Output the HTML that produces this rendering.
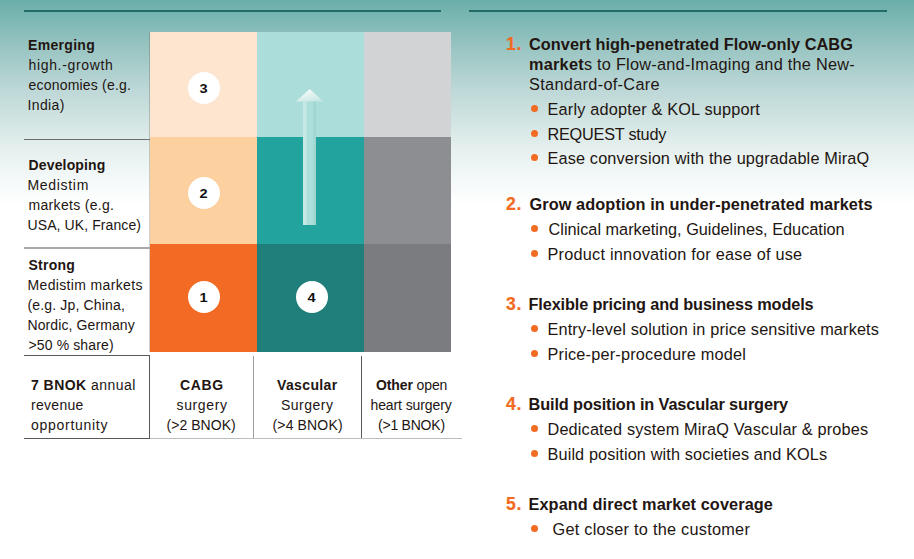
<!DOCTYPE html>
<html><head><meta charset="utf-8">
<style>
*{margin:0;padding:0;box-sizing:border-box}
html,body{width:914px;height:559px;overflow:hidden;background:#fff}
body{position:relative;font-family:"Liberation Sans",sans-serif;color:#221511}
#bg{position:absolute;left:0;top:0;width:914px;height:559px;
background:linear-gradient(to bottom,#6aaea9 0px,#7db8b4 20px,#9bc6c3 50px,#bdd8d7 90px,#d8e8e6 130px,#e6f0ef 150px,#f4f9f9 180px,#ffffff 205px,#ffffff 559px)}
.hl{position:absolute;height:2px;background:#236b66;top:10px}
.cell{position:absolute}
.t{position:absolute;white-space:nowrap;line-height:20px}
b{font-weight:bold}
.num{position:absolute;white-space:nowrap;line-height:20px;color:#f26b22;font-weight:bold;font-size:17.6px;-webkit-text-stroke:0.2px #f26b22;letter-spacing:0.8px}
.dot{position:absolute;width:7px;height:7px;border-radius:50%;background:#f26b22}
.circ{position:absolute;width:32px;height:32px;border-radius:50%;background:#fff;text-align:center;line-height:33px;font-size:13px;font-weight:bold;color:#111}
.circ span{display:inline-block;transform:scaleX(1.12)}
.line{position:absolute}
</style></head><body>

<div id="bg"></div>
<div class="hl" style="left:24px;width:417px"></div>
<div class="hl" style="left:469px;width:418px"></div>
<div class="cell" style="left:150px;top:32px;width:107px;height:105px;background:#fee5cf"></div>
<div class="cell" style="left:257px;top:32px;width:107px;height:105px;background:#abdeda"></div>
<div class="cell" style="left:364px;top:32px;width:87px;height:105px;background:#d2d3d5"></div>
<div class="cell" style="left:150px;top:137px;width:107px;height:107px;background:#fcd09f"></div>
<div class="cell" style="left:257px;top:137px;width:107px;height:107px;background:#22a39d"></div>
<div class="cell" style="left:364px;top:137px;width:87px;height:107px;background:#8d8e92"></div>
<div class="cell" style="left:150px;top:244px;width:107px;height:108px;background:#f26a24"></div>
<div class="cell" style="left:257px;top:244px;width:107px;height:108px;background:#217f7b"></div>
<div class="cell" style="left:364px;top:244px;width:87px;height:108px;background:#7b7c80"></div>
<div class="cell" style="left:303px;top:101px;width:13px;height:124px;background:linear-gradient(to right,#c8e8e6 0,#c8e8e6 3px,#acdeda 4px,#acdeda 10px,#9fd6d2 11px,#9fd6d2 13px)"></div>
<svg style="position:absolute;left:0;top:0" width="914" height="559"><defs><linearGradient id="ah" x1="0.3" y1="0.1" x2="0.7" y2="1"><stop offset="0" stop-color="#f2faf9"/><stop offset="0.55" stop-color="#dff1ef"/><stop offset="1" stop-color="#c6e6e3"/></linearGradient></defs>
<polygon points="309.6,88.9 296,101.4 323.4,101.4" fill="url(#ah)"/></svg>
<div class="circ" style="left:187.7px;top:72px"><span>3</span></div>
<div class="circ" style="left:187.7px;top:177px"><span>2</span></div>
<div class="circ" style="left:187.7px;top:281px"><span>1</span></div>
<div class="circ" style="left:295.7px;top:281px"><span>4</span></div>
<div class="line" style="left:149px;top:32px;width:1px;height:320px;background:rgba(95,80,70,0.28)"></div>
<div class="line" style="left:24px;top:139px;width:126px;height:1px;background:#6d6e70"></div>
<div class="line" style="left:24px;top:247px;width:126px;height:1.5px;background:#a7a9ac"></div>
<div class="line" style="left:24px;top:355px;width:126px;height:1px;background:#58595b"></div>
<div class="line" style="left:149px;top:355px;width:1px;height:83px;background:#58595b"></div>
<div class="line" style="left:253px;top:356px;width:1px;height:82px;background:#9a9c9f"></div>
<div class="line" style="left:361px;top:356px;width:1px;height:82px;background:#58595b"></div>
<div class="line" style="left:24px;top:437.5px;width:126px;height:1px;background:#58595b"></div>
<div class="line" style="left:150px;top:437.5px;width:312px;height:1.5px;background:#bcbec0"></div>

<div class="num" style="left:506px;top:33.70px">1.</div>
<div class="num" style="left:506px;top:193.50px">2.</div>
<div class="num" style="left:506px;top:293.50px">3.</div>
<div class="num" style="left:506px;top:393.50px">4.</div>
<div class="num" style="left:506px;top:493.60px">5.</div>
<div class="dot" style="left:531px;top:105.20px"></div>
<div class="dot" style="left:531px;top:130.00px"></div>
<div class="dot" style="left:531px;top:154.10px"></div>
<div class="dot" style="left:531px;top:225.20px"></div>
<div class="dot" style="left:531px;top:250.20px"></div>
<div class="dot" style="left:531px;top:325.20px"></div>
<div class="dot" style="left:531px;top:350.20px"></div>
<div class="dot" style="left:531px;top:425.20px"></div>
<div class="dot" style="left:531px;top:450.20px"></div>
<div class="dot" style="left:531px;top:525.00px"></div>
<div class="t" id="e1" style="left:28.00px;top:34.75px;font-size:14px;letter-spacing:0.314px"><b>Emerging</b></div>
<div class="t" id="e2" style="left:28.50px;top:54.75px;font-size:14px;letter-spacing:0.655px">high.-growth</div>
<div class="t" id="e3" style="left:28.50px;top:74.75px;font-size:14px;letter-spacing:0.200px">economies (e.g.</div>
<div class="t" id="e4" style="left:27.50px;top:94.75px;font-size:14px;letter-spacing:0.360px">India)</div>
<div class="t" id="d1" style="left:28.50px;top:154.75px;font-size:14px;letter-spacing:0.156px"><b>Developing</b></div>
<div class="t" id="d2" style="left:27.50px;top:174.75px;font-size:14px;letter-spacing:0.686px">Medistim</div>
<div class="t" id="d3" style="left:28.50px;top:194.65px;font-size:14px;letter-spacing:0.317px">markets (e.g.</div>
<div class="t" id="d4" style="left:27.50px;top:214.55px;font-size:14px;letter-spacing:0.093px">USA, UK, France)</div>
<div class="t" id="s1" style="left:28.50px;top:254.85px;font-size:14px;letter-spacing:0.240px"><b>Strong</b></div>
<div class="t" id="s2" style="left:27.50px;top:274.85px;font-size:14px;letter-spacing:0.347px">Medistim markets</div>
<div class="t" id="s3" style="left:27.50px;top:294.85px;font-size:14px;letter-spacing:0.160px">(e.g. Jp, China,</div>
<div class="t" id="s4" style="left:27.50px;top:314.85px;font-size:14px;letter-spacing:0.100px">Nordic, Germany</div>
<div class="t" id="s5" style="left:28.50px;top:334.85px;font-size:14px;letter-spacing:0.127px">&gt;50 % share)</div>
<div class="t" id="b1" style="left:31.00px;top:374.75px;font-size:14px;letter-spacing:0.467px"><b>7 BNOK</b> annual</div>
<div class="t" id="b2" style="left:31.00px;top:394.85px;font-size:14px;letter-spacing:0.300px">revenue</div>
<div class="t" id="b3" style="left:31.00px;top:414.75px;font-size:14px;letter-spacing:0.720px">opportunity</div>
<div class="t" id="c1" style="left:180.00px;top:374.85px;font-size:14px;letter-spacing:0.667px"><b>CABG</b></div>
<div class="t" id="c2" style="left:176.50px;top:394.85px;font-size:14px;letter-spacing:0.633px">surgery</div>
<div class="t" id="c3" style="left:166.50px;top:414.55px;font-size:14px;letter-spacing:0.050px">(&gt;2 BNOK)</div>
<div class="t" id="v1" style="left:277.00px;top:374.85px;font-size:14px;letter-spacing:0.371px"><b>Vascular</b></div>
<div class="t" id="v2" style="left:281.00px;top:394.85px;font-size:14px;letter-spacing:0.500px">Surgery</div>
<div class="t" id="v3" style="left:272.50px;top:414.55px;font-size:14px;letter-spacing:0.150px">(&gt;4 BNOK)</div>
<div class="t" id="o1" style="left:376.00px;top:374.85px;font-size:14px;letter-spacing:-0.111px"><b>Other</b> open</div>
<div class="t" id="o2" style="left:370.50px;top:394.85px;font-size:14px;letter-spacing:-0.100px">heart surgery</div>
<div class="t" id="o3" style="left:378.00px;top:414.55px;font-size:14px;letter-spacing:-0.225px">(&gt;1 BNOK)</div>
<div class="t" id="h1a" style="left:529.00px;top:34.15px;font-size:16.3px;letter-spacing:0.049px"><b>Convert high-penetrated Flow-only CABG</b></div>
<div class="t" id="h1b" style="left:529.00px;top:54.05px;font-size:16.3px;letter-spacing:0.251px"><b>market</b>s to Flow-and-Imaging and the New-</div>
<div class="t" id="h1c" style="left:529.00px;top:73.95px;font-size:16.3px;letter-spacing:0.320px">Standard-of-Care</div>
<div class="t" id="p1" style="left:547.50px;top:99.05px;font-size:16.3px;letter-spacing:0.185px">Early adopter &amp; KOL support</div>
<div class="t" id="p2" style="left:547.50px;top:123.75px;font-size:16.3px;letter-spacing:-0.250px">REQUEST study</div>
<div class="t" id="p3" style="left:547.50px;top:148.25px;font-size:16.3px;letter-spacing:0.145px">Ease conversion with the upgradable MiraQ</div>
<div class="t" id="h2" style="left:529.50px;top:193.95px;font-size:16.3px;letter-spacing:0.095px"><b>Grow adoption in under-penetrated markets</b></div>
<div class="t" id="p4" style="left:548.50px;top:218.85px;font-size:16.3px;letter-spacing:0.005px">Clinical marketing, Guidelines, Education</div>
<div class="t" id="p5" style="left:547.50px;top:243.85px;font-size:16.3px;letter-spacing:0.230px">Product innovation for ease of use</div>
<div class="t" id="h3" style="left:528.50px;top:293.95px;font-size:16.3px;letter-spacing:-0.126px"><b>Flexible pricing and business models</b></div>
<div class="t" id="p6" style="left:547.50px;top:318.85px;font-size:16.3px;letter-spacing:0.143px">Entry-level solution in price sensitive markets</div>
<div class="t" id="p7" style="left:547.50px;top:343.85px;font-size:16.3px;letter-spacing:0.200px">Price-per-procedure model</div>
<div class="t" id="h4" style="left:528.50px;top:393.95px;font-size:16.3px;letter-spacing:-0.109px"><b>Build position in Vascular surgery</b></div>
<div class="t" id="p8" style="left:547.50px;top:418.85px;font-size:16.3px;letter-spacing:0.154px">Dedicated system MiraQ Vascular &amp; probes</div>
<div class="t" id="p9" style="left:547.50px;top:443.85px;font-size:16.3px;letter-spacing:0.119px">Build position with societies and KOLs</div>
<div class="t" id="h5" style="left:528.50px;top:494.05px;font-size:16.3px;letter-spacing:0.100px"><b>Expand direct market coverage</b></div>
<div class="t" id="p10" style="left:552.50px;top:518.85px;font-size:16.3px;letter-spacing:0.256px">Get closer to the customer</div>
</body></html>
